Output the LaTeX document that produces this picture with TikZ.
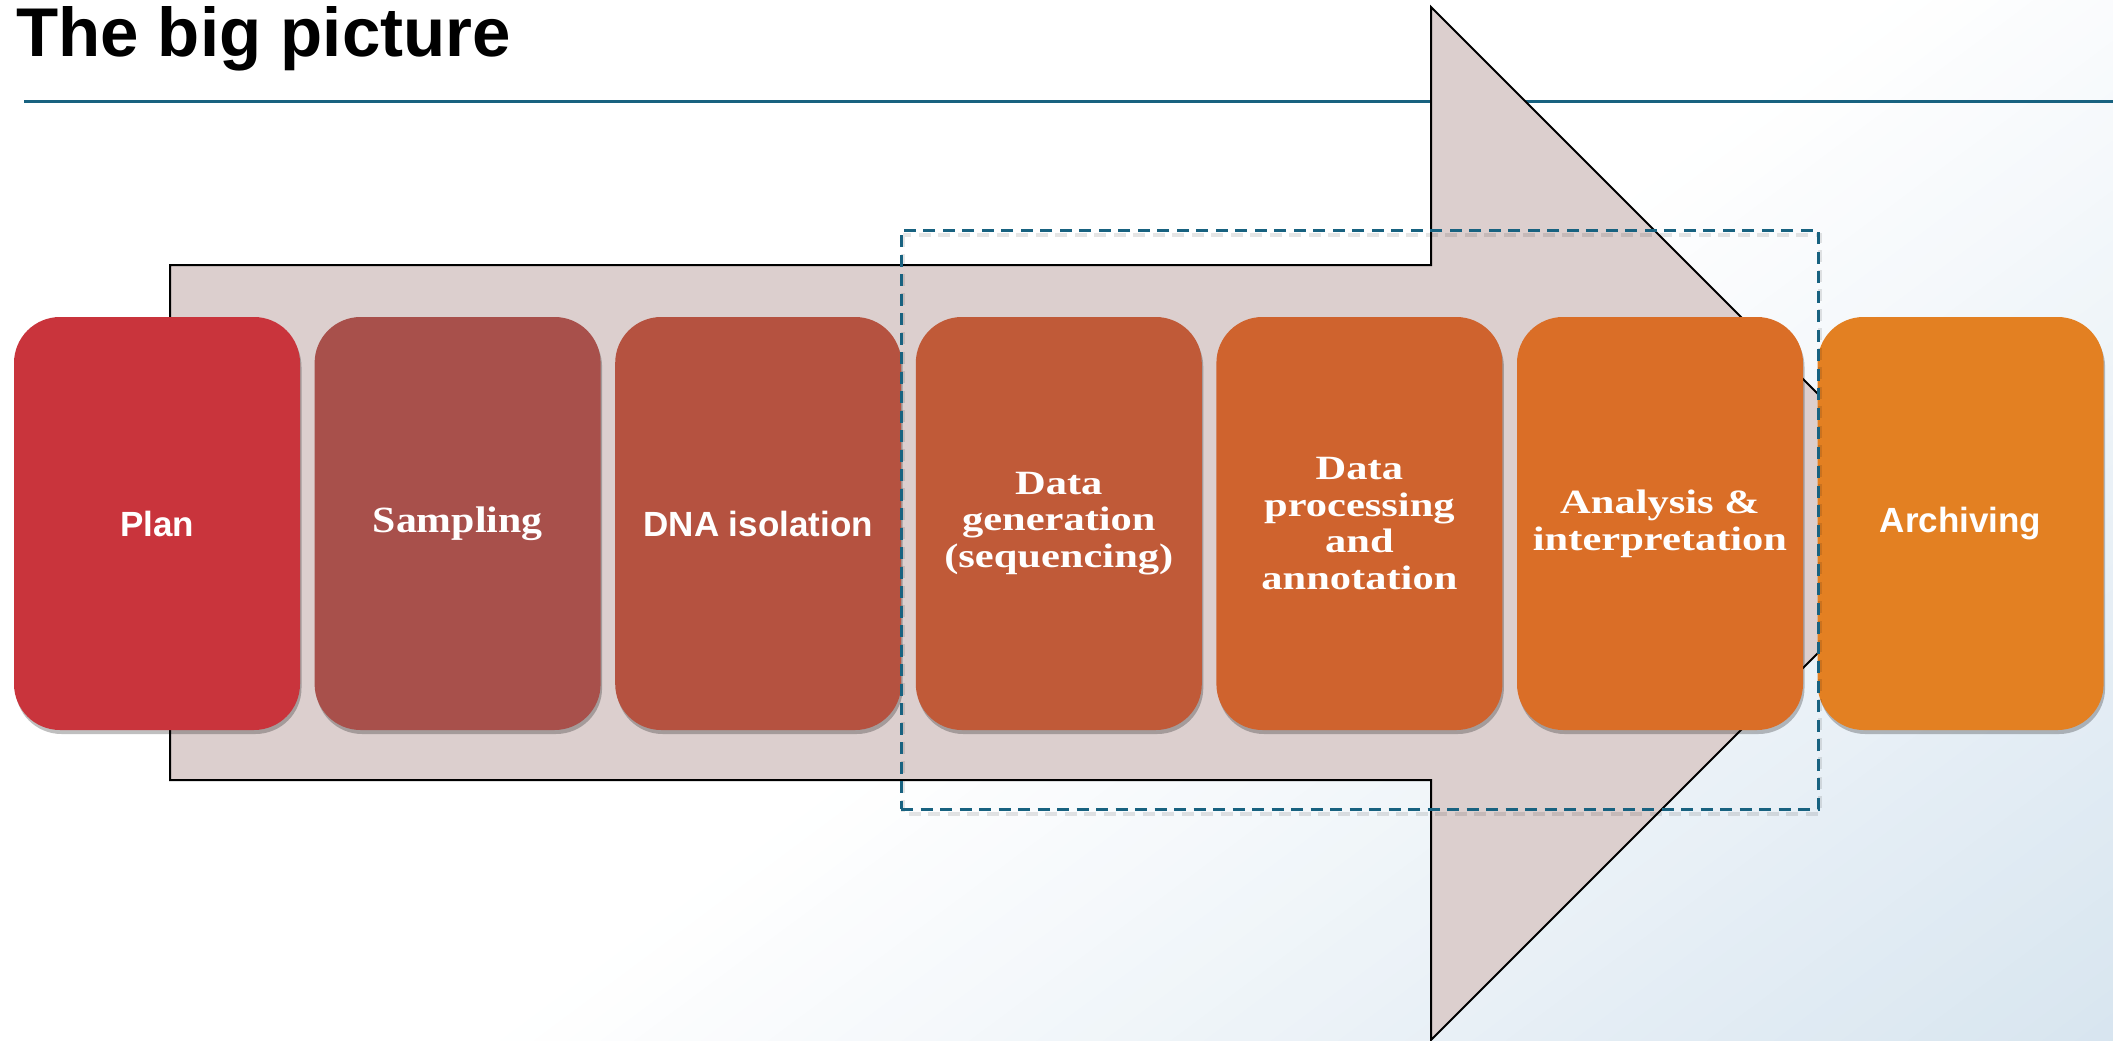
\documentclass[tikz,border=0pt]{standalone}
\usepackage{fontspec}
\setmainfont{Liberation Serif}
\newfontfamily\titlefont{Liberation Sans}
\newfontfamily\boxsans{Liberation Sans}
\newfontfamily\boxserifA[FakeStretch=1.13]{Liberation Serif}
\newfontfamily\boxserifB[FakeStretch=1.25]{Liberation Serif}
\usetikzlibrary{shadows}

\definecolor{cPlan}{RGB}{201,52,60}
\definecolor{cSamp}{RGB}{168,80,75}
\definecolor{cDNA}{RGB}{181,82,64}
\definecolor{cGen}{RGB}{192,90,56}
\definecolor{cProc}{RGB}{207,99,46}
\definecolor{cAna}{RGB}{218,110,39}
\definecolor{cArch}{RGB}{227,128,34}
\definecolor{arrowfill}{RGB}{220,207,206}
\definecolor{tealline}{RGB}{24,98,128}
\definecolor{bgblue}{RGB}{214,228,239}

\tikzset{
  stagebox/.style={rounded corners=46pt, minimum width=286pt, minimum height=413pt,
    inner sep=0pt, text=white, align=center,
    drop shadow={shadow xshift=1.5pt, shadow yshift=-4pt, opacity=0.25, fill=black}},
  sanslabel/.style={font=\boxsans\fontsize{35}{40}\selectfont\bfseries},
  serifA/.style={font=\boxserifA\fontsize{37}{40}\selectfont\bfseries},
  serifB/.style={font=\boxserifB\fontsize{34}{36.8}\selectfont\bfseries},
  focusline/.style={line width=3pt, dash pattern=on 12pt off 7.5pt},
}

\begin{document}
\begin{tikzpicture}[x=1pt,y=-1pt]
\useasboundingbox (0,0) rectangle (2113,1041);
% background: white, fading to pale blue towards the lower right
\begin{scope}
\clip (0,0) rectangle (2113,1041);
\fill[white] (0,0) rectangle (2113,1041);
\foreach \i in {0,...,49}{
  \pgfmathsetmacro{\da}{1134+\i*20}
  \pgfmathsetmacro{\db}{\da+21}
  \pgfmathsetmacro{\p}{(\i+0.5)*2}
  \fill[bgblue!\p!white]
    ({\da*0.5967-800*0.8025},{\da*0.8025+800*0.5967}) --
    ({\da*0.5967+2000*0.8025},{\da*0.8025-2000*0.5967}) --
    ({\db*0.5967+2000*0.8025},{\db*0.8025-2000*0.5967}) --
    ({\db*0.5967-800*0.8025},{\db*0.8025+800*0.5967}) -- cycle;
}
\end{scope}

% title
\node[anchor=base west, inner sep=0pt, font=\titlefont\fontsize{69}{80}\selectfont\bfseries] (title) at (16,57) {The big picture};
\coordinate (lineL) at (24,101);
\coordinate (lineR) at (2113,101);
\draw[tealline, line width=3pt] (lineL) -- (lineR);

% big arrow
\draw[fill=arrowfill, draw=black, line width=2pt, line join=miter]
  (170,265) -- (1431,265) -- (1431,7) -- (1947.5,523.5) -- (1431,1040) -- (1431,780) -- (170,780) -- cycle;

% stages
\node[stagebox, fill=cPlan, sanslabel] (plan) at (157,523.5) {Plan};
\node[stagebox, fill=cSamp, serifA] (samp) at (457.6,523.5) {Sampling};
\node[stagebox, fill=cDNA, sanslabel] (dna) at (758.2,523.5) {DNA isolation};
\node[stagebox, fill=cGen, serifB] (gen) at (1058.8,523.5) {Data\\generation\\(sequencing)};
\node[stagebox, fill=cProc, serifB] (proc) at (1359.4,523.5) {Data\\processing\\and\\annotation};
\node[stagebox, fill=cAna, serifB] (ana) at (1660,523.5) {Analysis \&\\interpretation};
\node[stagebox, fill=cArch, sanslabel] (arch) at (1960.6,523.5) {Archiving};

% dashed focus box (soft shadow, then the box)
\draw[black, opacity=0.10, focusline, line width=4pt] (902.5,234.5) rectangle (1819.5,813.5);
\node[draw=tealline, focusline, minimum width=917pt, minimum height=579pt, inner sep=0pt] (focus) at (1359.5,519.5) {};
\end{tikzpicture}
\end{document}
